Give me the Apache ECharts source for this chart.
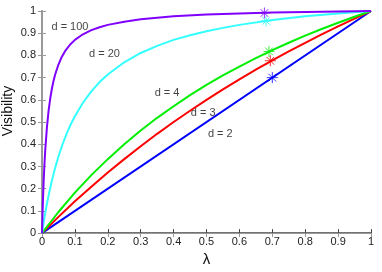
<!DOCTYPE html>
<html>
<head>
<meta charset="utf-8">
<script src="https://cdn.jsdelivr.net/npm/echarts@6/dist/echarts.min.js"></script>
<style>
html,body{margin:0;padding:0;background:#fff;}
#chart{width:382px;height:272px;}
</style>
</head>
<body>
<div id="chart"></div>
<script>
// ---- data ----
var lam2 = [0, 1];
var vis2 = [0, 1];

var lam3 = [0, 0.05, 0.1, 0.15, 0.2, 0.25, 0.3, 0.35, 0.4, 0.45, 0.5, 0.55, 0.6, 0.65, 0.7, 0.75, 0.8, 0.85, 0.9, 0.95, 1];
var vis3 = [0, 0.073, 0.143, 0.209, 0.273, 0.333, 0.391, 0.447, 0.5, 0.551, 0.6, 0.647, 0.692, 0.736, 0.778, 0.818, 0.857, 0.895, 0.931, 0.966, 1];

var lam4 = [0, 0.05, 0.1, 0.15, 0.2, 0.25, 0.3, 0.35, 0.4, 0.45, 0.5, 0.55, 0.6, 0.65, 0.7, 0.75, 0.8, 0.85, 0.9, 0.95, 1];
var vis4 = [0, 0.095, 0.182, 0.261, 0.333, 0.4, 0.462, 0.519, 0.571, 0.621, 0.667, 0.71, 0.75, 0.788, 0.824, 0.857, 0.889, 0.919, 0.947, 0.974, 1];

var lam20 = [0, 0.005, 0.01, 0.015, 0.02, 0.03, 0.04, 0.05, 0.0625, 0.075, 0.0875, 0.1, 0.125, 0.15, 0.175, 0.2, 0.25, 0.3, 0.35, 0.4, 0.45, 0.5, 0.55, 0.6, 0.7, 0.8, 0.9, 1];
var vis20 = [0, 0.048, 0.092, 0.132, 0.169, 0.236, 0.294, 0.345, 0.4, 0.448, 0.49, 0.526, 0.588, 0.638, 0.68, 0.714, 0.769, 0.811, 0.843, 0.87, 0.891, 0.909, 0.924, 0.9375, 0.959, 0.976, 0.989, 1];

var lam100 = [0, 0.0025, 0.005, 0.0075, 0.01, 0.015, 0.02, 0.025, 0.03, 0.035, 0.04, 0.05, 0.06, 0.07, 0.085, 0.1, 0.12, 0.15, 0.175, 0.2, 0.25, 0.3, 0.4, 0.5, 0.6, 0.7, 0.8, 0.9, 1];
var vis100 = [0, 0.131, 0.232, 0.312, 0.377, 0.477, 0.55, 0.606, 0.65, 0.685, 0.714, 0.759, 0.793, 0.819, 0.848, 0.87, 0.891, 0.914, 0.927, 0.9375, 0.952, 0.963, 0.976, 0.984, 0.989, 0.993, 0.996, 0.998, 1];

var markLam = [0.70, 0.694, 0.69, 0.681, 0.676];
var markVis = [0.70, 0.776, 0.818, 0.955, 0.991];

var curveNames = ['d = 2', 'd = 3', 'd = 4', 'd = 20', 'd = 100'];
var labelLam = [0.542, 0.49, 0.38, 0.19, 0.085];
var labelVis = [0.447, 0.54, 0.632, 0.807, 0.93];

var xTicks = [0, 0.1, 0.2, 0.3, 0.4, 0.5, 0.6, 0.7, 0.8, 0.9, 1];
var yTicks = [0, 0.1, 0.2, 0.3, 0.4, 0.5, 0.6, 0.7, 0.8, 0.9, 1];

var colors = ['#0000ff', '#ff0000', '#00ee00', '#33ffff', '#8000ff'];

// ---- build ----
function zip(a, b) { return a.map(function (v, i) { return [v, b[i]]; }); }
var curves = [zip(lam2, vis2), zip(lam3, vis3), zip(lam4, vis4), zip(lam20, vis20), zip(lam100, vis100)];

var FONT = 'Liberation Sans, Arial, sans-serif';
var series = [];
curves.forEach(function (d, i) {
  series.push({
    type: 'line', name: curveNames[i], data: d, showSymbol: false,
    smooth: false,
    lineStyle: { color: colors[i], width: 2, join: 'round' }, z: 2 + i, silent: true
  });
});
var star = 'path://M5,0L5,10M0,5L10,5M1.5,1.5L8.5,8.5M1.5,8.5L8.5,1.5';
series.push({
  type: 'scatter',
  data: markLam.map(function (v, i) {
    return { value: [v, markVis[i]], itemStyle: { borderColor: colors[i] } };
  }),
  symbol: star, symbolSize: 11,
  itemStyle: { color: 'transparent', borderWidth: 1 },
  z: 10, silent: true
});
series.push({
  type: 'scatter',
  data: labelLam.map(function (v, i) { return { value: [v, labelVis[i]], name: curveNames[i] }; }),
  symbolSize: 1,
  itemStyle: { color: 'transparent' },
  label: { show: true, position: 'inside', formatter: '{b}', color: '#111', fontSize: 11, fontFamily: FONT },
  z: 11, silent: true
});

function fmt(v) { return String(Math.round(v * 10) / 10); }

var chart = echarts.init(document.getElementById('chart'), null, { renderer: 'canvas' });
chart.setOption({
  animation: false,
  backgroundColor: '#fff',
  grid: { left: 42, right: 11, top: 11, bottom: 33 },
  xAxis: [{
    type: 'value', min: 0, max: 1, interval: 0.1,
    name: 'λ', nameLocation: 'middle', nameGap: 12,
    nameTextStyle: { fontSize: 15, color: '#111', fontFamily: FONT },
    axisLine: { show: true, lineStyle: { color: '#444', width: 1.5 } },
    axisTick: { show: true, inside: true, length: 4, lineStyle: { color: '#444' } },
    axisLabel: { color: '#222', fontSize: 11, fontFamily: FONT, margin: 3,
      formatter: function (v) { return xTicks.indexOf(Math.round(v * 10) / 10) >= 0 ? fmt(v) : ''; } },
    splitLine: { show: false }
  }, {
    type: 'value', min: 0, max: 1, interval: 0.1, position: 'top',
    axisLine: { show: true, lineStyle: { color: '#999', width: 1 } },
    axisTick: { show: true, inside: true, length: 4, lineStyle: { color: '#999' } },
    axisLabel: { show: false }, splitLine: { show: false }
  }],
  yAxis: [{
    type: 'value', min: 0, max: 1, interval: 0.1,
    axisLine: { show: true, lineStyle: { color: '#999', width: 2 } },
    axisTick: { show: true, inside: true, length: 4, lineStyle: { color: '#999' } },
    axisLabel: { color: '#222', fontSize: 11, fontFamily: FONT, margin: 6,
      formatter: function (v) { return yTicks.indexOf(Math.round(v * 10) / 10) >= 0 ? fmt(v) : ''; } },
    splitLine: { show: false }
  }, {
    type: 'value', min: 0, max: 1, interval: 0.1, position: 'right',
    axisLine: { show: true, lineStyle: { color: '#999', width: 2 } },
    axisTick: { show: true, inside: true, length: 4, lineStyle: { color: '#999' } },
    axisLabel: { show: false }, splitLine: { show: false }
  }],
  graphic: [{
    type: 'text', x: 8, y: 111, rotation: Math.PI / 2,
    style: { text: 'Visibility', fontSize: 14, fontFamily: FONT, fill: '#111',
      align: 'center', verticalAlign: 'middle' }
  }],
  series: series
});
</script>
</body>
</html>
